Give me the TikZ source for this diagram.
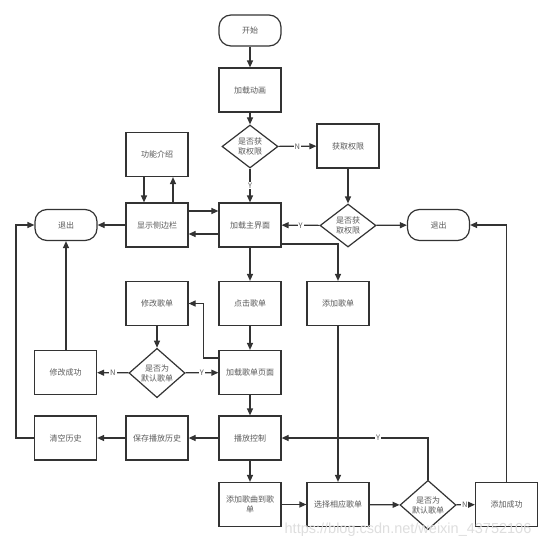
\documentclass[tikz,border=0pt]{standalone}
\usepackage{fontspec}
\newfontfamily\cjk{Noto Sans CJK SC}
\newfontfamily\wmfont{Liberation Sans}
\usetikzlibrary{shapes.geometric,arrows.meta,calc}
\definecolor{ln}{HTML}{333333}
\definecolor{tx}{HTML}{5a5a5a}
\begin{document}
\begin{tikzpicture}[x=1pt,y=-1pt,
  every node/.style={font=\cjk\fontsize{8}{10}\selectfont, text=tx},
  box/.style={draw=ln, line width=1.2pt, fill=white, minimum width=62pt, minimum height=44pt, inner sep=1pt, align=center, text width=56pt},
  term/.style={draw=ln, line width=1.2pt, fill=white, rounded corners=12pt, minimum width=62pt, minimum height=31pt, align=center},
  dec/.style={diamond, draw=ln, line width=1.2pt, fill=white, minimum width=56pt, minimum height=43pt, inner sep=0pt, align=center},
  arr/.style={draw=ln, line width=1.2pt, -{Triangle[length=7pt,width=6pt]}},
  lbl/.style={fill=white, inner sep=1pt, font=\cjk\fontsize{7.5}{9}\selectfont}
]
\useasboundingbox (0,0) rectangle (553,543);
\fill[white] (0,0) rectangle (553,543);

% nodes
\node[term] (start) at (250,30.5) {开始};
\node[box] (anim) at (250,90) {加载动画};
\node[dec] (d1) at (250,146.5) {是否获\\取权限};
\node[box] (getp) at (348,146) {获取权限};
\node[dec] (d2) at (348,225.5) {是否获\\取权限};
\node[box] (main) at (250,225) {加载主界面};
\node[box] (intro) at (157,154.5) {功能介绍};
\node[box] (side) at (157,225) {显示侧边栏};
\node[term] (exitL) at (66,225) {退出};
\node[term] (exitR) at (438.5,225) {退出};
\node[box] (edit) at (157,303.5) {修改歌单};
\node[box] (click) at (250,303.5) {点击歌单};
\node[box] (addlist) at (338,303.5) {添加歌单};
\node[dec] (d3) at (157,373) {是否为\\默认歌单};
\node[box] (modok) at (65.5,372.5) {修改成功};
\node[box] (loadl) at (250,372.5) {加载歌单页面};
\node[box] (clear) at (65.5,438) {清空历史};
\node[box] (save) at (157,438) {保存播放历史};
\node[box] (play) at (250,438) {播放控制};
\node[box] (addsong) at (250,504.5) {添加歌曲到歌\\单};
\node[box] (select) at (338,504.5) {选择相应歌单};
\node[dec] (d4) at (428,505) {是否为\\默认歌单};
\node[box] (addok) at (506.5,504.5) {添加成功};

% connectors
\draw[arr] (start) -- (anim);
\draw[arr] (anim) -- (d1);
\draw[arr] (d1) -- node[lbl] {Y} (main);
\draw[arr] (d1) -- node[lbl] {N} (getp);
\draw[arr] (getp) -- (d2);
\draw[arr] (d2) -- node[lbl] {Y} (main);
\draw[arr] (d2) -- (exitR);
\draw[arr] (side.east |- 0,211) -- (main.west |- 0,211);
\draw[arr] (main.west |- 0,234) -- (side.east |- 0,234);
\draw[arr] (side) -- (exitL);
\draw[arr] (side.north -| 173,0) -- (intro.south -| 173,0);
\draw[arr] (intro.south -| 144,0) -- (side.north -| 144,0);
\draw[arr] (main) -- (click);
\draw[arr] (main.east |- 0,244) -| (addlist.north);
\draw[arr] (click) -- (loadl);
\draw[arr] (loadl.west |- 0,358) -- ++(-15,0) |- (edit.east);
\draw[arr] (edit) -- (d3);
\draw[arr] (d3) -- node[lbl] {Y} (loadl);
\draw[arr] (d3) -- node[lbl] {N} (modok);
\draw[arr] (modok.north -| exitL.south) -- (exitL.south);
\draw[arr] (loadl) -- (play);
\draw[arr] (play) -- (save);
\draw[arr] (save) -- (clear);
\draw[arr] (clear.west) -- ++(-18,0) |- (exitL.west);
\draw[arr] (play) -- (addsong);
\draw[arr] (addsong) -- (select);
\draw[arr] (addlist) -- (select);
\draw[arr] (select) -- (d4);
\draw[arr] (d4) -- node[lbl, pos=0.45] {N} (addok);
\draw[arr] (d4.north) |- node[lbl, pos=0.67] {Y} (play.east);
\draw[arr] (addok.north) |- (exitR.east);

% watermark
\node[font=\wmfont\fontsize{14.5}{16}\selectfont, text=black!13] (wm) at (408,530) {https://blog.csdn.net/weixin\_43752106};
\end{tikzpicture}
\end{document}
